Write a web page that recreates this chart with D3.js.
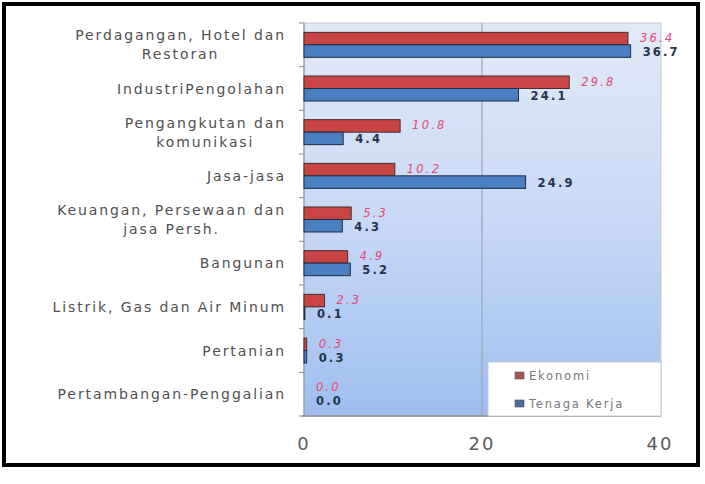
<!DOCTYPE html>
<html>
<head>
<meta charset="utf-8">
<script src="https://cdn.jsdelivr.net/npm/d3@7"></script>
<style>
  body { margin: 0; background: #fff; }
  svg { display: block; font-family: "DejaVu Sans", sans-serif; }
</style>
</head>
<body>
<svg id="svg1" width="705" height="484"></svg>
<script>
// data
var categories = [
  ["Perdagangan, Hotel dan", "Restoran"],
  ["IndustriPengolahan"],
  ["Pengangkutan dan", "komunikasi"],
  ["Jasa-jasa"],
  ["Keuangan, Persewaan dan", "jasa Persh."],
  ["Bangunan"],
  ["Listrik, Gas dan Air Minum"],
  ["Pertanian"],
  ["Pertambangan-Penggalian"]
];
var ekonomi = [36.4, 29.8, 10.8, 10.2, 5.3, 4.9, 2.3, 0.3, 0.0];
var tenagaKerja = [36.7, 24.1, 4.4, 24.9, 4.3, 5.2, 0.1, 0.3, 0.0];
var seriesNames = ["Ekonomi", "Tenaga Kerja"];
var xTicks = [0, 20, 40];

var svg = d3.select("#svg1");

var plotLeft = 304, plotRight = 661, plotTop = 23, plotBottom = 416;

var scaleX = d3.scaleLinear().domain([0, 40]).range([plotLeft, 660]);
var scaleY = d3.scaleBand().domain(d3.range(categories.length)).range([plotTop, plotBottom]);

// background gradient of plot area
var defs = svg.append("defs");
var grad = defs.append("linearGradient").attr("id", "bg")
    .attr("x1", 0).attr("y1", 0).attr("x2", 0).attr("y2", 1);
grad.append("stop").attr("offset", "0%").attr("stop-color", "#e2eaf8");
grad.append("stop").attr("offset", "50%").attr("stop-color", "#c8d9f6");
grad.append("stop").attr("offset", "100%").attr("stop-color", "#9fbeef");

svg.append("rect")
    .attr("x", plotLeft).attr("y", plotTop)
    .attr("width", plotRight - plotLeft).attr("height", plotBottom - plotTop)
    .attr("fill", "url(#bg)")
    .attr("stroke", "#c4cad4").attr("stroke-width", 1);

// gridline at 20
svg.append("line")
    .attr("x1", scaleX(20)).attr("x2", scaleX(20))
    .attr("y1", plotTop).attr("y2", plotBottom)
    .attr("stroke", "#9aa6b8").attr("stroke-width", 1.2);

// left axis ticks
svg.selectAll(".ytick")
    .data(d3.range(categories.length + 1))
    .enter()
    .append("line")
      .attr("class", "ytick")
      .attr("x1", plotLeft - 5).attr("x2", plotLeft)
      .attr("y1", function(d) { return plotTop + d * scaleY.step(); })
      .attr("y2", function(d) { return plotTop + d * scaleY.step(); })
      .attr("stroke", "#8a8a8a");

svg.append("line")
    .attr("x1", plotLeft).attr("x2", plotLeft)
    .attr("y1", plotTop).attr("y2", plotBottom)
    .attr("stroke", "#8a8a8a");
svg.append("line")
    .attr("x1", plotLeft - 2).attr("x2", plotRight)
    .attr("y1", plotBottom).attr("y2", plotBottom)
    .attr("stroke", "#8a8a8a").attr("stroke-width", 1.5);

var barH = 12.5;

function center(i) { return scaleY(i) + scaleY.bandwidth() / 2; }

// Ekonomi bars
svg.selectAll(".bar-eko")
    .data(ekonomi)
    .enter()
    .append("rect")
      .attr("class", "bar-eko")
      .attr("x", scaleX(0))
      .attr("y", function(d, i) { return center(i) - barH; })
      .attr("width", function(d) { return scaleX(d) - scaleX(0); })
      .attr("height", barH)
      .attr("fill", "#c94545")
      .attr("stroke", "#4a2a2a").attr("stroke-width", 1);

// Tenaga Kerja bars
svg.selectAll(".bar-tk")
    .data(tenagaKerja)
    .enter()
    .append("rect")
      .attr("class", "bar-tk")
      .attr("x", scaleX(0))
      .attr("y", function(d, i) { return center(i); })
      .attr("width", function(d) { return scaleX(d) - scaleX(0); })
      .attr("height", barH)
      .attr("fill", "#4a7fc2")
      .attr("stroke", "#1d2b44").attr("stroke-width", 1);

// value labels
svg.selectAll(".lab-eko")
    .data(ekonomi)
    .enter()
    .append("text")
      .attr("class", "lab-eko")
      .attr("x", function(d) { return scaleX(d) + 12; })
      .attr("y", function(d, i) { return center(i) - 3; })
      .attr("font-size", 11.5).attr("font-style", "italic")
      .attr("letter-spacing", 2.2)
      .attr("fill", "#e64a74")
      .text(function(d) { return d.toFixed(1); });

svg.selectAll(".lab-tk")
    .data(tenagaKerja)
    .enter()
    .append("text")
      .attr("class", "lab-tk")
      .attr("x", function(d) { return scaleX(d) + 12; })
      .attr("y", function(d, i) { return center(i) + 11; })
      .attr("font-size", 11.5).attr("font-weight", "bold")
      .attr("letter-spacing", 2.2)
      .attr("fill", "#26324a")
      .text(function(d) { return d.toFixed(1); });

// category labels (multi-line, lines centred, block right aligned)
var catRight = 286;
var lineH = 19;
categories.forEach(function(lines, i) {
  var g = svg.append("text")
      .attr("font-size", 14)
      .attr("letter-spacing", 1.9)
      .attr("fill", "#505050")
      .attr("text-anchor", "middle");
  var tspans = lines.map(function(t, j) {
    return g.append("tspan")
        .attr("y", center(i) + 5 + (j - (lines.length - 1) / 2) * lineH)
        .text(t);
  });
  var maxW = d3.max(tspans, function(t) { return t.node().getComputedTextLength(); });
  tspans.forEach(function(t) { t.attr("x", catRight - maxW / 2); });
});

// x tick labels
svg.selectAll(".xlab")
    .data(xTicks)
    .enter()
    .append("text")
      .attr("class", "xlab")
      .attr("x", function(d) { return scaleX(d); })
      .attr("y", 450)
      .attr("text-anchor", "middle")
      .attr("font-size", 18)
      .attr("letter-spacing", 2)
      .attr("fill", "#5a5a5a")
      .text(function(d) { return d; });

// legend
var lg = svg.append("g").attr("transform", "translate(488,362)");
lg.append("rect")
    .attr("width", plotRight - 488).attr("height", plotBottom - 362)
    .attr("fill", "#fff").attr("stroke", "#c4cad4");
var legendColors = ["#b05555", "#4e6a96"];
seriesNames.forEach(function(name, i) {
  lg.append("rect")
      .attr("x", 27).attr("y", 10 + i * 28)
      .attr("width", 9).attr("height", 7)
      .attr("fill", legendColors[i]).attr("stroke", "#555").attr("stroke-width", 0.6);
  lg.append("text")
      .attr("x", 41).attr("y", 18 + i * 28)
      .attr("font-size", 11.5)
      .attr("letter-spacing", 1.8)
      .attr("fill", "#777")
      .text(name);
});

// outer frame
svg.append("rect")
    .attr("x", 4).attr("y", 4).attr("width", 694).attr("height", 461)
    .attr("fill", "none").attr("stroke", "#000").attr("stroke-width", 4);
</script>
</body>
</html>
